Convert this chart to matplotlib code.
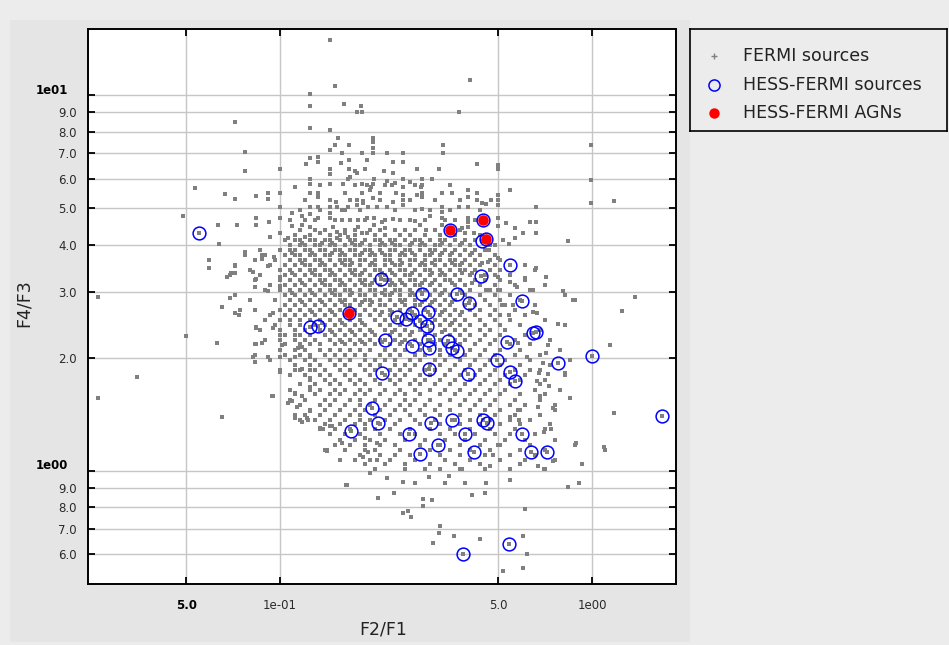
import matplotlib
matplotlib.use('Agg')
import matplotlib.pyplot as plt
from matplotlib.patches import Rectangle
from matplotlib.ticker import FixedLocator, FixedFormatter, NullLocator

# FERMI sources, dense part of the cloud: one row of F2/F1 values per F4/F3 level
fermi_rows = [
    (5.76, [0.134, 0.174, 0.217, 0.270, 0.351]),
    (5.26, [0.120, 0.145, 0.168, 0.209, 0.261, 0.314, 0.378]),
    (4.94, [0.116, 0.134, 0.162, 0.180, 0.233, 0.270, 0.302, 0.351, 0.438]),
    (4.65, [0.108, 0.120, 0.129, 0.150, 0.168, 0.187, 0.217, 0.242, 0.261, 0.291, 0.338, 0.364, 0.422]),
    (4.37, [0.116, 0.129, 0.139, 0.162, 0.174, 0.194, 0.209, 0.233, 0.251, 0.270, 0.314, 0.351, 0.378]),
    (4.24, [0.112, 0.125, 0.145, 0.156, 0.174, 0.201, 0.217, 0.242, 0.261, 0.291, 0.326, 0.364, 0.438]),
    (4.11, [0.104, 0.112, 0.116, 0.125, 0.129, 0.139, 0.145, 0.156, 0.168, 0.174, 0.187, 0.201, 0.209, 0.225,
            0.233, 0.251, 0.270, 0.281, 0.302, 0.326, 0.338, 0.364, 0.392, 0.422]),
    (4.05, [0.118, 0.136, 0.147, 0.170, 0.183, 0.212, 0.229, 0.265, 0.285, 0.331, 0.383]),
    (3.99, [0.108, 0.116, 0.120, 0.129, 0.134, 0.145, 0.150, 0.162, 0.174, 0.180, 0.194, 0.209, 0.217, 0.233,
            0.242, 0.261, 0.281, 0.291, 0.314, 0.326, 0.351, 0.378, 0.406, 0.471, 0.489]),
    (3.87, [0.0863, 0.100, 0.108, 0.112, 0.120, 0.125, 0.134, 0.139, 0.150, 0.156, 0.168, 0.174, 0.187, 0.194,
            0.209, 0.225, 0.233, 0.251, 0.261, 0.281, 0.302, 0.314, 0.338, 0.364, 0.392, 0.422, 0.454]),
    (3.81, [0.109, 0.127, 0.147, 0.158, 0.183, 0.197, 0.212, 0.246, 0.265, 0.307, 0.331, 0.356, 0.412]),
    (3.75, [0.0772, 0.0895, 0.104, 0.112, 0.116, 0.125, 0.129, 0.139, 0.145, 0.156, 0.162, 0.174, 0.180, 0.194,
            0.201, 0.217, 0.225, 0.242, 0.251, 0.270, 0.291, 0.302, 0.326, 0.351, 0.378, 0.406, 0.438, 0.489]),
    (3.64, [0.0831, 0.0964, 0.108, 0.116, 0.120, 0.129, 0.134, 0.145, 0.156, 0.162, 0.168, 0.180, 0.187, 0.201,
            0.217, 0.225, 0.242, 0.261, 0.270, 0.291, 0.314, 0.326, 0.351, 0.364, 0.392, 0.422, 0.471, 0.507]),
    (3.58, [0.118, 0.136, 0.158, 0.170, 0.197, 0.229, 0.246, 0.285, 0.307, 0.356, 0.383, 0.444]),
    (3.53, [0.0717, 0.0929, 0.104, 0.112, 0.120, 0.125, 0.134, 0.139, 0.150, 0.162, 0.168, 0.180, 0.194, 0.201,
            0.217, 0.233, 0.242, 0.261, 0.281, 0.291, 0.314, 0.338, 0.364, 0.378, 0.406, 0.438, 0.489, 0.610]),
    (3.42, [0.0801, 0.100, 0.108, 0.116, 0.125, 0.129, 0.139, 0.145, 0.156, 0.168, 0.174, 0.187, 0.201, 0.209,
            0.225, 0.242, 0.251, 0.270, 0.291, 0.302, 0.326, 0.351, 0.378, 0.392, 0.422, 0.471, 0.507, 0.657]),
    (3.37, [0.109, 0.127, 0.147, 0.170, 0.183, 0.212, 0.229, 0.265, 0.307, 0.331, 0.383, 0.412]),
    (3.32, [0.0691, 0.0863, 0.104, 0.112, 0.120, 0.129, 0.134, 0.145, 0.150, 0.162, 0.174, 0.180, 0.194, 0.209,
            0.217, 0.233, 0.251, 0.261, 0.281, 0.302, 0.326, 0.338, 0.364, 0.406, 0.454, 0.489, 0.546]),
    (3.22, [0.0831, 0.100, 0.108, 0.116, 0.125, 0.134, 0.139, 0.150, 0.156, 0.168, 0.180, 0.187, 0.201, 0.217,
            0.225, 0.242, 0.261, 0.270, 0.291, 0.314, 0.338, 0.351, 0.378, 0.422, 0.454, 0.507, 0.610]),
    (3.17, [0.118, 0.136, 0.158, 0.183, 0.197, 0.229, 0.246, 0.285, 0.307, 0.356, 0.412]),
    (3.12, [0.0929, 0.104, 0.112, 0.120, 0.129, 0.139, 0.145, 0.156, 0.162, 0.174, 0.187, 0.194, 0.209, 0.225,
            0.233, 0.251, 0.270, 0.281, 0.302, 0.326, 0.364, 0.392, 0.438, 0.489, 0.567, 0.707]),
    (3.03, [0.0895, 0.100, 0.108, 0.116, 0.125, 0.134, 0.145, 0.150, 0.162, 0.168, 0.180, 0.194, 0.201, 0.217,
            0.233, 0.242, 0.261, 0.281, 0.291, 0.314, 0.338, 0.378, 0.406, 0.471, 0.507, 0.633]),
    (2.98, [0.109, 0.127, 0.147, 0.170, 0.212, 0.229, 0.265, 0.285, 0.331, 0.383]),
    (2.94, [0.0717, 0.104, 0.112, 0.120, 0.129, 0.139, 0.150, 0.156, 0.168, 0.180, 0.187, 0.201, 0.217, 0.225,
            0.242, 0.261, 0.270, 0.302, 0.326, 0.351, 0.392, 0.438, 0.489, 0.546, 0.819]),
    (2.85, [0.0801, 0.0964, 0.108, 0.116, 0.125, 0.134, 0.145, 0.156, 0.162, 0.174, 0.187, 0.194, 0.209, 0.225,
            0.242, 0.251, 0.270, 0.291, 0.314, 0.338, 0.364, 0.406, 0.454, 0.507, 0.588, 0.882]),
    (2.81, [0.118, 0.136, 0.158, 0.183, 0.197, 0.246, 0.285, 0.307, 0.356]),
    (2.76, [0.104, 0.112, 0.120, 0.129, 0.139, 0.150, 0.162, 0.168, 0.180, 0.194, 0.209, 0.217, 0.233, 0.251,
            0.270, 0.281, 0.302, 0.326, 0.351, 0.392, 0.422, 0.471, 0.526, 0.657]),
    (2.68, [0.0744, 0.0831, 0.100, 0.108, 0.116, 0.125, 0.134, 0.145, 0.156, 0.174, 0.187, 0.201, 0.225, 0.242,
            0.261, 0.291, 0.314, 0.338, 0.364, 0.406, 0.438, 0.489, 0.567]),
    (2.64, [0.127, 0.147, 0.170, 0.212, 0.229, 0.265, 0.331, 0.383]),
    (2.60, [0.0929, 0.104, 0.112, 0.120, 0.129, 0.139, 0.150, 0.162, 0.180, 0.194, 0.209, 0.225, 0.251, 0.270,
            0.302, 0.326, 0.351, 0.378, 0.422, 0.471, 0.507, 0.610]),
    (2.52, [0.0895, 0.100, 0.108, 0.116, 0.125, 0.134, 0.145, 0.156, 0.168, 0.180, 0.201, 0.217, 0.233, 0.261,
            0.281, 0.314, 0.338, 0.364, 0.392, 0.438, 0.489, 0.546, 0.707]),
    (2.48, [0.136, 0.158, 0.183, 0.246, 0.285, 0.307, 0.356]),
    (2.45, [0.0964, 0.108, 0.116, 0.129, 0.139, 0.150, 0.162, 0.174, 0.187, 0.209, 0.225, 0.242, 0.270, 0.291,
            0.326, 0.351, 0.378, 0.406, 0.454, 0.507, 0.588]),
    (2.37, [0.0863, 0.100, 0.112, 0.120, 0.134, 0.145, 0.156, 0.168, 0.180, 0.194, 0.217, 0.233, 0.251, 0.281,
            0.302, 0.338, 0.364, 0.392, 0.438, 0.471, 0.526, 0.681]),
    (2.34, [0.147, 0.170, 0.197, 0.229, 0.265, 0.331]),
    (2.30, [0.104, 0.116, 0.125, 0.139, 0.150, 0.162, 0.174, 0.187, 0.201, 0.225, 0.242, 0.261, 0.291, 0.314,
            0.351, 0.378, 0.406, 0.454, 0.507, 0.610]),
    (2.23, [0.0895, 0.100, 0.112, 0.120, 0.129, 0.145, 0.156, 0.168, 0.180, 0.194, 0.209, 0.233, 0.251, 0.270,
            0.302, 0.326, 0.364, 0.392, 0.438, 0.489, 0.567, 0.733]),
    (2.20, [0.158, 0.183, 0.212, 0.246, 0.307]),
    (2.17, [0.0831, 0.104, 0.116, 0.125, 0.134, 0.150, 0.162, 0.174, 0.187, 0.201, 0.225, 0.242, 0.261, 0.281,
            0.314, 0.338, 0.378, 0.422, 0.471, 0.546, 0.633]),
    (2.10, [0.100, 0.112, 0.120, 0.134, 0.145, 0.156, 0.168, 0.180, 0.194, 0.217, 0.233, 0.251, 0.281, 0.302,
            0.326, 0.364, 0.406, 0.454, 0.507, 0.588, 0.789]),
    (2.04, [0.0831, 0.104, 0.116, 0.125, 0.139, 0.150, 0.162, 0.174, 0.187, 0.209, 0.225, 0.242, 0.270, 0.291,
            0.326, 0.351, 0.392, 0.438, 0.489, 0.567, 0.681]),
    (1.97, [0.0929, 0.108, 0.120, 0.129, 0.145, 0.156, 0.168, 0.187, 0.201, 0.217, 0.233, 0.261, 0.281, 0.314,
            0.338, 0.378, 0.422, 0.471, 0.526, 0.633, 0.850]),
    (1.91, [0.112, 0.125, 0.134, 0.150, 0.162, 0.180, 0.194, 0.209, 0.233, 0.251, 0.270, 0.302, 0.326, 0.364,
            0.406, 0.454, 0.507, 0.588, 0.733]),
    (1.86, [0.100, 0.116, 0.129, 0.139, 0.156, 0.168, 0.187, 0.201, 0.225, 0.242, 0.261, 0.291, 0.314, 0.351,
            0.392, 0.438, 0.489, 0.567, 0.681]),
    (1.80, [0.108, 0.120, 0.134, 0.145, 0.162, 0.174, 0.194, 0.217, 0.233, 0.251, 0.281, 0.302, 0.338, 0.378,
            0.422, 0.471, 0.526, 0.610, 0.819]),
    (1.75, [0.125, 0.139, 0.150, 0.168, 0.180, 0.201, 0.225, 0.242, 0.270, 0.291, 0.326, 0.364, 0.406, 0.454,
            0.507, 0.588, 0.707]),
    (1.70, [0.116, 0.129, 0.145, 0.156, 0.174, 0.187, 0.209, 0.233, 0.261, 0.281, 0.314, 0.351, 0.392, 0.438,
            0.489, 0.546, 0.681]),
    (1.64, [0.108, 0.125, 0.134, 0.150, 0.162, 0.180, 0.194, 0.217, 0.242, 0.270, 0.302, 0.338, 0.378, 0.422,
            0.471, 0.526, 0.657, 0.789]),
    (1.60, [0.112, 0.129, 0.145, 0.156, 0.174, 0.187, 0.209, 0.233, 0.251, 0.281, 0.326, 0.364, 0.406, 0.454,
            0.507, 0.588, 0.707]),
    (1.54, [0.108, 0.120, 0.139, 0.150, 0.168, 0.180, 0.201, 0.225, 0.251, 0.270, 0.302, 0.351, 0.392, 0.438,
            0.489, 0.567, 0.681]),
    (1.50, [0.116, 0.134, 0.145, 0.162, 0.180, 0.194, 0.217, 0.242, 0.261, 0.291, 0.326, 0.378, 0.422, 0.471,
            0.546, 0.610, 0.761]),
    (1.45, [0.125, 0.139, 0.156, 0.174, 0.187, 0.209, 0.233, 0.251, 0.281, 0.314, 0.351, 0.406, 0.454, 0.507,
            0.588, 0.761]),
    (1.41, [0.112, 0.120, 0.134, 0.150, 0.168, 0.180, 0.201, 0.225, 0.261, 0.291, 0.326, 0.378, 0.438, 0.489,
            0.567, 0.681]),
    (1.37, [0.116, 0.129, 0.145, 0.162, 0.180, 0.194, 0.217, 0.242, 0.270, 0.314, 0.364, 0.406, 0.471, 0.546, 0.633]),
    (1.33, [0.139, 0.156, 0.174, 0.187, 0.209, 0.233, 0.281, 0.326, 0.378, 0.438, 0.507, 0.588, 0.733]),
    (1.29, [0.134, 0.150, 0.168, 0.187, 0.201, 0.225, 0.261, 0.302, 0.351, 0.406, 0.471, 0.567, 0.707]),
    (1.25, [0.145, 0.162, 0.180, 0.209, 0.242, 0.270, 0.326, 0.364, 0.422, 0.489, 0.546, 0.657]),
    (1.21, [0.156, 0.174, 0.194, 0.217, 0.251, 0.291, 0.338, 0.392, 0.454, 0.526, 0.610, 0.761]),
    (1.17, [0.150, 0.168, 0.187, 0.209, 0.233, 0.281, 0.326, 0.378, 0.438, 0.507, 0.633, 0.882]),
    (1.14, [0.139, 0.162, 0.187, 0.201, 0.242, 0.302, 0.351, 0.406, 0.471, 0.588, 0.707, 1.10]),
    (1.10, [0.180, 0.209, 0.233, 0.261, 0.326, 0.378, 0.454, 0.546, 0.657]),
    (1.07, [0.156, 0.174, 0.194, 0.225, 0.270, 0.338, 0.406, 0.507, 0.610, 0.761]),
    (1.04, [0.187, 0.217, 0.251, 0.302, 0.364, 0.438, 0.588]),
    (1.01, [0.201, 0.251, 0.291, 0.326, 0.378, 0.454, 0.546, 0.707]),
]

# FERMI sources, scattered points around the cloud (F2/F1, F4/F3)
fermi_extra = [
    (0.145, 14.0), (0.406, 11.0), (0.150, 10.6), (0.125, 10.1), (0.125, 9.35), (0.160, 9.5), (0.182, 9.35),
    (0.177, 9.0), (0.183, 9.0), (0.375, 9.0), (0.0717, 8.5), (0.125, 8.16), (0.145, 8.1), (0.153, 7.7),
    (0.150, 7.35), (0.166, 7.35), (0.198, 7.7), (0.198, 7.5), (0.198, 7.25), (0.333, 7.35), (0.333, 7.0),
    (0.99, 7.35), (0.0775, 7.05), (0.145, 7.14), (0.158, 7.0), (0.183, 7.0), (0.198, 7.0), (0.221, 7.0),
    (0.248, 7.0), (0.125, 6.8), (0.132, 6.85), (0.132, 6.65), (0.121, 6.55), (0.157, 6.6), (0.166, 6.72),
    (0.190, 6.72), (0.230, 6.62), (0.248, 6.62), (0.428, 6.55), (0.5, 6.52), (0.1, 6.36), (0.0775, 6.28),
    (0.145, 6.36), (0.145, 6.15), (0.166, 6.36), (0.174, 6.28), (0.177, 6.22), (0.187, 6.36), (0.215, 6.28),
    (0.230, 6.22), (0.274, 6.36), (0.323, 6.36), (0.5, 6.36), (0.125, 6.0), (0.2, 6.0), (0.165, 6.0),
    (0.145, 5.8), (0.159, 5.8), (0.183, 5.8), (0.190, 5.78), (0.198, 5.8), (0.221, 5.9), (0.233, 5.85),
    (0.228, 5.78), (0.248, 6.0), (0.261, 5.88), (0.285, 6.0), (0.285, 5.78), (0.306, 6.0), (0.99, 5.94),
    (0.125, 5.8), (0.168, 6.04), (0.283, 5.7), (0.112, 5.7), (0.0534, 5.65), (0.248, 5.7), (0.196, 5.7),
    (0.209, 5.5), (0.0666, 5.45), (0.0915, 5.5), (0.1, 5.5), (0.125, 5.5), (0.132, 5.5), (0.162, 5.48),
    (0.183, 5.5), (0.194, 5.59), (0.235, 5.5), (0.285, 5.5), (0.331, 5.5), (0.356, 5.5), (0.400, 5.6),
    (0.428, 5.5), (0.546, 5.59), (0.0717, 5.3), (0.0838, 5.4), (0.0915, 5.3), (0.132, 5.35), (0.151, 5.19),
    (0.177, 5.26), (0.184, 5.22), (0.198, 5.33), (0.248, 5.42), (0.274, 5.42), (0.285, 5.35), (0.230, 5.19),
    (0.400, 5.35), (0.428, 5.26), (0.443, 5.15), (0.458, 5.12), (0.475, 5.26), (0.5, 5.42), (0.5, 5.26),
    (0.5, 5.1), (1.18, 5.22), (0.99, 5.15), (0.248, 5.26), (0.248, 5.1), (0.1, 5.04), (0.125, 5.04),
    (0.132, 5.04), (0.145, 5.04), (0.152, 5.04), (0.158, 4.94), (0.165, 5.04), (0.177, 5.1), (0.184, 5.15),
    (0.192, 5.04), (0.204, 5.04), (0.220, 5.04), (0.285, 4.97), (0.331, 5.04), (0.331, 4.88), (0.375, 5.04),
    (0.400, 5.04), (0.66, 5.04), (0.109, 4.85), (0.118, 4.76), (0.125, 4.82), (0.145, 4.85), (0.0487, 4.76),
    (0.0838, 4.7), (0.092, 4.59), (0.1, 4.7), (0.132, 4.7), (0.145, 4.7), (0.158, 4.65), (0.178, 4.65),
    (0.190, 4.7), (0.2, 4.7), (0.230, 4.67), (0.213, 4.59), (0.270, 4.62), (0.302, 4.76), (0.331, 4.7),
    (0.400, 4.72), (0.400, 4.59), (0.5, 4.7), (0.53, 4.57), (0.633, 4.59), (0.66, 4.59), (0.0633, 4.5),
    (0.073, 4.5), (0.0838, 4.5), (0.109, 4.48), (0.118, 4.5), (0.125, 4.45), (0.148, 4.45), (0.178, 4.45),
    (0.2, 4.5), (0.217, 4.42), (0.281, 4.5), (0.331, 4.5), (0.384, 4.42), (0.5, 4.48), (0.293, 4.37),
    (0.4, 4.45), (0.567, 4.42), (0.1, 4.3), (0.0929, 4.2), (0.120, 4.2), (0.106, 4.17), (0.134, 4.3),
    (0.152, 4.32), (0.152, 4.17), (0.162, 4.3), (0.165, 4.2), (0.183, 4.3), (0.190, 4.3), (0.392, 4.3),
    (0.417, 4.3), (0.60, 4.3), (0.66, 4.3), (0.567, 4.17), (0.52, 4.11), (0.54, 4.02), (0.84, 4.09),
    (0.0637, 4.02), (0.0775, 3.83), (0.0875, 3.75), (0.0875, 3.66), (0.0957, 3.7), (0.0592, 3.64),
    (0.0592, 3.46), (0.0717, 3.5), (0.0915, 3.5), (0.0676, 3.28), (0.0696, 3.36), (0.0717, 3.36),
    (0.082, 3.38), (0.0838, 3.24), (0.0831, 3.09), (0.0915, 3.01), (0.1, 3.28), (0.1, 3.1), (0.0261, 2.9),
    (0.0691, 2.88), (0.0651, 2.73), (0.0717, 2.63), (0.0738, 2.6), (0.0838, 2.4), (0.095, 2.63),
    (0.05, 2.28), (0.0629, 2.19), (0.0835, 2.42), (0.0835, 2.18), (0.0875, 2.19), (0.095, 2.4), (0.1, 2.3),
    (0.1015, 2.16), (0.112, 2.3), (0.114, 2.12), (0.118, 2.14), (0.082, 2.01), (0.0831, 1.95),
    (0.0915, 2.01), (0.1, 2.01), (0.112, 2.01), (0.125, 2.01), (0.0349, 1.78), (0.1, 1.83), (0.112, 1.86),
    (0.118, 1.87), (0.125, 1.86), (0.125, 1.77), (0.0261, 1.56), (0.095, 1.58), (0.112, 1.61),
    (0.118, 1.58), (0.125, 1.67), (0.106, 1.52), (0.109, 1.53), (0.113, 1.48), (0.0651, 1.39),
    (0.112, 1.38), (0.118, 1.35), (0.122, 1.38), (0.125, 1.44), (0.134, 1.30), (0.0943, 1.58),
    (0.141, 1.13), (0.163, 0.918), (0.158, 1.19), (0.187, 1.22), (0.204, 1.19), (0.187, 1.14),
    (0.191, 1.12), (0.185, 1.09), (0.194, 1.07), (0.204, 1.07), (0.194, 0.99), (0.137, 1.29), (0.145, 1.32),
    (0.466, 3.87), (0.66, 3.47), (0.71, 3.28), (0.81, 3.01), (0.87, 2.85), (1.37, 2.9), (1.25, 2.66),
    (0.5, 3.68), (0.5, 3.28), (0.465, 3.6), (0.546, 3.18), (0.575, 3.09), (0.61, 3.26), (0.645, 3.03),
    (0.458, 3.03), (0.5, 3.03), (0.515, 2.76), (0.556, 2.76), (0.54, 2.6), (0.645, 2.65), (0.665, 2.63),
    (0.778, 2.46), (0.82, 2.45), (1.14, 2.16), (0.58, 2.19), (0.72, 2.16), (0.62, 2.01), (0.695, 1.94),
    (0.71, 2.06), (0.633, 1.86), (0.675, 1.82), (0.72, 1.81), (0.82, 1.82), (0.665, 1.73), (0.726, 1.68),
    (0.85, 1.56), (0.681, 1.58), (0.67, 1.48), (0.75, 1.47), (1.18, 1.43), (1.09, 1.16), (0.89, 1.19),
    (0.93, 1.04), (0.84, 0.906), (0.91, 0.93), (0.70, 1.01), (0.67, 1.03), (0.74, 1.29), (0.70, 1.27),
    (0.75, 1.06), (0.585, 1.37), (0.546, 1.39), (0.58, 1.45), (0.61, 0.79), (0.60, 0.67), (0.62, 0.60),
    (0.60, 0.55), (0.52, 0.54), (0.438, 0.66), (0.546, 0.946), (0.5, 1.17), (0.48, 1.10), (0.471, 1.03),
    (0.458, 0.93), (0.454, 0.874), (0.412, 0.863), (0.392, 0.93), (0.384, 1.01), (0.348, 0.97),
    (0.338, 0.93), (0.306, 0.837), (0.326, 0.714), (0.323, 0.684), (0.36, 0.672), (0.309, 0.643),
    (0.287, 0.842), (0.287, 0.807), (0.263, 0.755), (0.257, 0.783), (0.248, 0.773), (0.232, 0.874),
    (0.206, 0.848), (0.164, 0.918), (0.3, 0.964), (0.27, 0.93), (0.248, 0.935), (0.221, 0.958),
    (0.194, 0.99), (0.141, 1.14), (0.137, 1.29), (0.147, 1.32), (0.123, 1.37),
]

# HESS-FERMI sources (not AGN)
hess_x = [0.055, 0.125, 0.132, 0.211, 0.444, 0.546, 0.441, 0.285, 0.370, 0.403, 0.597, 0.237, 0.253, 0.265,
          0.281, 0.298, 0.296, 0.217, 0.265, 0.298, 0.300, 0.346, 0.356, 0.370, 0.534, 0.647, 0.662, 1.00,
          0.496, 0.778, 0.212, 0.300, 0.400, 0.546, 0.567, 0.197, 0.206, 0.169, 0.259, 0.304, 0.356, 0.448,
          0.461, 0.392, 0.597, 0.281, 0.321, 0.417, 0.638, 0.717, 1.68, 0.541, 0.385]
hess_y = [4.30, 2.41, 2.43, 3.24, 4.08, 3.53, 3.30, 2.96, 2.96, 2.80, 2.83, 2.57, 2.54, 2.63,
          2.50, 2.65, 2.43, 2.23, 2.15, 2.23, 2.13, 2.22, 2.13, 2.08, 2.20, 2.33, 2.34, 2.02,
          1.97, 1.94, 1.82, 1.87, 1.81, 1.83, 1.74, 1.47, 1.34, 1.28, 1.25, 1.34, 1.37, 1.37,
          1.34, 1.25, 1.25, 1.11, 1.17, 1.12, 1.12, 1.12, 1.40, 0.64, 0.60]

# HESS-FERMI AGNs
agn_x = [0.166, 0.351, 0.448, 0.458]
agn_y = [2.63, 4.37, 4.65, 4.14]

x_ticks = [0.05, 0.1, 0.5, 1.0]
x_tick_labels = ['5.0', '1e-01', '5.0', '1e00']
y_ticks = [0.6, 0.7, 0.8, 0.9, 1.0, 2.0, 3.0, 4.0, 5.0, 6.0, 7.0, 8.0, 9.0, 10.0]
y_tick_labels = ['6.0', '7.0', '8.0', '9.0', '', '2.0', '3.0', '4.0', '5.0', '6.0', '7.0', '8.0', '9.0', '']
legend_labels = ['FERMI sources', 'HESS-FERMI sources', 'HESS-FERMI AGNs']

# flatten the FERMI data
fermi_x = []
fermi_y = []
for yv, xs in fermi_rows:
    for xv in xs:
        fermi_x.append(xv)
        fermi_y.append(yv)
for xv, yv in fermi_extra:
    fermi_x.append(xv)
    fermi_y.append(yv)
# HESS-FERMI sources are FERMI sources too
all_hess_x = hess_x + agn_x
all_hess_y = hess_y + agn_y
fermi_x += all_hess_x
fermi_y += all_hess_y

W, H = 949, 645
fig = plt.figure(figsize=(W / 100, H / 100), dpi=100, facecolor='#ececec')
# grey panel behind the plot
fig.patches.append(Rectangle((10 / W, 3 / H), 680 / W, 622 / H, transform=fig.transFigure,
                             facecolor='#e5e5e5', edgecolor='none', zorder=-5))

ax = fig.add_axes([88 / W, 1 - 584 / H, 588 / W, 555 / H])
ax.set_zorder(2)
ax.set_facecolor('white')
ax.set_xscale('log')
ax.set_yscale('log')
ax.set_xlim(0.02424, 1.858)
ax.set_ylim(0.5, 15.0)

ax.plot(fermi_x, fermi_y, linestyle='none', marker='s', markersize=2.9, markeredgewidth=0,
        color='#808080', zorder=2)
ax.plot(all_hess_x, all_hess_y, linestyle='none', marker='o', markersize=9.2, markerfacecolor='none',
        markeredgecolor='#0000ff', markeredgewidth=1.1, zorder=3)
ax.plot(agn_x, agn_y, linestyle='none', marker='o', markersize=7.6, markeredgewidth=0,
        color='#ff0000', zorder=4)

ax.xaxis.set_major_locator(FixedLocator(x_ticks))
ax.xaxis.set_major_formatter(FixedFormatter(x_tick_labels))
ax.yaxis.set_major_locator(FixedLocator(y_ticks))
ax.yaxis.set_major_formatter(FixedFormatter(y_tick_labels))
ax.xaxis.set_minor_locator(NullLocator())
ax.yaxis.set_minor_locator(NullLocator())

ax.grid(True, which='major', color='#c6c6c6', linewidth=1.0)
ax.set_axisbelow(True)
ax.tick_params(which='major', direction='in', top=True, right=True, length=5, width=1.3,
               color='black', labelsize=8.5, labelcolor='#2a2a2a')
ax.tick_params(axis='y', pad=8)
ax.tick_params(axis='x', pad=11)
for s in ax.spines.values():
    s.set_linewidth(1.4)
ax.get_xticklabels()[0].set_fontweight('bold')
ax.get_xticklabels()[0].set_color('black')

# decade labels on the y axis, set a little higher and further left
for yv, lab in [(10.0, '1e01'), (1.0, '1e00')]:
    ax.annotate(lab, xy=(0, yv), xycoords=('axes fraction', 'data'), xytext=(-20, 5),
                textcoords='offset pixels', ha='right', va='center', fontsize=8.5,
                fontweight='bold', color='black', annotation_clip=False)

fig.text(383 / W, 1 - 630 / H, 'F2/F1', ha='center', va='center', fontsize=12.5, color='#222222')
fig.text(24 / W, 1 - 303 / H, 'F4/F3', ha='center', va='center', rotation=90, fontsize=12.5,
         color='#222222')

# legend box
lax = fig.add_axes([690 / W, 1 - 131 / H, 257 / W, 102 / H])
lax.set_zorder(2)
lax.set_facecolor('#ececec')
lax.set_xlim(0, 1)
lax.set_ylim(0, 1)
lax.set_xticks([])
lax.set_yticks([])
for s in lax.spines.values():
    s.set_linewidth(1.2)
    s.set_color('black')
rows_y = [0.735, 0.451, 0.176]
lax.plot([0.093], [rows_y[0]], marker='+', markersize=4, markeredgewidth=1, color='#808080')
lax.plot([0.093], [rows_y[1]], marker='o', markersize=8, markerfacecolor='none',
         markeredgecolor='#0000ff', markeredgewidth=1.1)
lax.plot([0.093], [rows_y[2]], marker='o', markersize=7.5, markeredgewidth=0, color='#ff0000')
for yv, lab in zip(rows_y, legend_labels):
    lax.text(0.205, yv, lab, ha='left', va='center', fontsize=12.5, color='#222222')

fig.savefig('out.png', dpi=100, facecolor=fig.get_facecolor())
